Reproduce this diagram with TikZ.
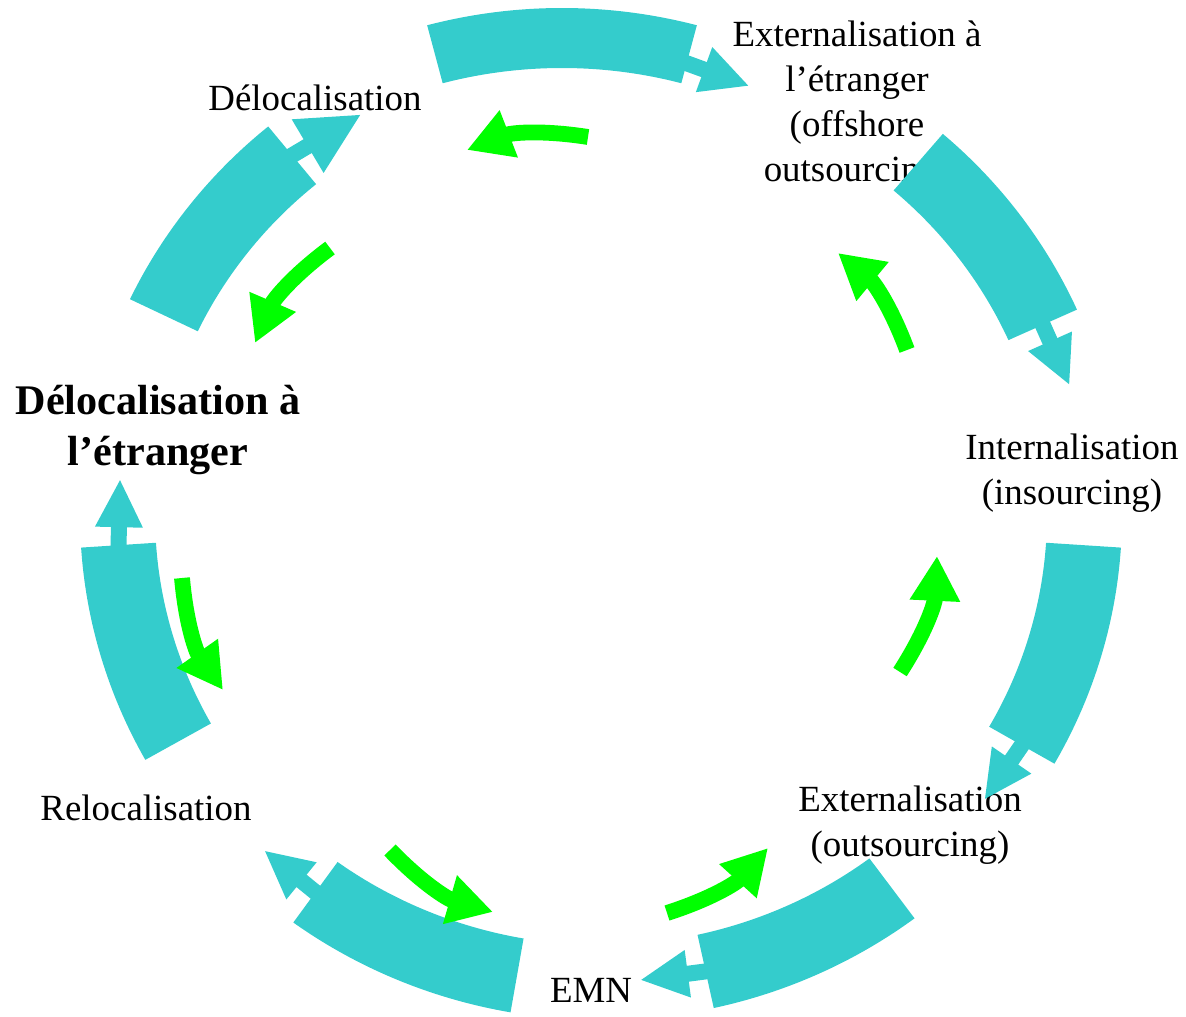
\documentclass[tikz,border=0pt]{standalone}
\usepackage{fontspec}
\setmainfont{Liberation Serif}
\usepackage{tikz}
\usetikzlibrary{arrows.meta,calc}
\definecolor{loopTeal}{HTML}{34CCCC}
\definecolor{loopGreen}{HTML}{00FF00}
\tikzset{
  band/.style={fill=loopTeal},
  back/.style={draw=loopGreen, line width=9pt, -{Triangle[length=25.5pt,width=27pt]}},
  lbl/.style={font=\fontsize{21}{25.5}\selectfont, align=center, inner sep=0pt},
  lblbold/.style={font=\fontsize{24}{29}\selectfont\bfseries, align=center, inner sep=0pt}
}

\begin{document}
\begin{tikzpicture}[x=0.02cm,y=0.02cm]
  \useasboundingbox (0,0) rectangle (1186,-1017);

  % stages round the cycle
  \node[lbl] (offshore) at (857,-105) {Externalisation à\\l’étranger\\(offshore\\outsourcing)};
  \node[lbl] (deloc) at (315,-98) {Délocalisation};
  \node[lblbold] (delocabroad) at (158,-430) {Délocalisation à\\l’étranger};
  \node[lbl] (insourcing) at (1072,-473) {Internalisation\\(insourcing)};
  \node[lbl] (reloc) at (146,-808) {Relocalisation};
  \node[lbl] (outsourcing) at (910,-825) {Externalisation\\(outsourcing)};
  \node[lbl] (emn) at (591,-990) {EMN};

  % outer ring: tail / head angle, centre x, outer and inner radii, head size, head turn
  \foreach \ta/\tb/\cx/\rxo/\ryo/\rxi/\ryi/\hs/\tw in {
      105/75/562/521/507/461/447/1/-5,
      154.7/129.7/601/521/505/446/430/1.3/-9,
      209/183.7/601/521/505/446/430/1/-5,
      260/233.8/601/521/505/446/430/1/-3,
      307/282.5/601/521/505/446/430/1/-5,
      356.3/330.5/601/521/505/446/430/1/-5,
      49/24/601/521/505/446/430/1/0} {
    \coordinate (c) at (\cx,-515);
    \fill[band] ($(c)+({\rxo*cos(\ta)},{\ryo*sin(\ta)})$)
      arc[start angle=\ta, end angle=\tb, x radius=\rxo, y radius=\ryo]
      -- ($(c)+({\rxi*cos(\tb)},{\ryi*sin(\tb)})$)
      arc[start angle=\tb, end angle=\ta, x radius=\rxi, y radius=\ryi] -- cycle;
    \begin{scope}[shift={($(c)+({483.5*cos(\tb)},{467.5*sin(\tb)})$)}, rotate=\tb-90+\tw]
      \fill[band] (-3,-8) rectangle (20,8);
      \fill[band] (18,-24*\hs) -- (18+47*\hs,0) -- (18,24*\hs) -- cycle;
    \end{scope}
  }

  % inner ring, running the other way
  \foreach \xa/\ya/\xb/\yb in {588/137/467/150, 330/248/255/343, 182/578/223/690,
      390/850/493/912, 667/913/768/848, 900/672/937/556, 907/350/838/253}
    \draw[back] (\xa,-\ya) to[bend right=15] (\xb,-\yb);
\end{tikzpicture}
\end{document}
